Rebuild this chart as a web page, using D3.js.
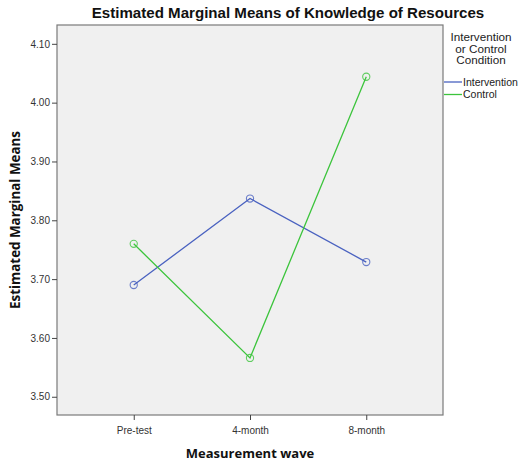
<!DOCTYPE html>
<html>
<head>
<meta charset="utf-8">
<script src="https://cdn.jsdelivr.net/npm/d3@7"></script>
<style>
  body { margin: 0; background: #fff; }
  svg { display: block; }
</style>
</head>
<body>
<svg width="519" height="461"></svg>
<script>
const width = 519;
const height = 461;

// data
const waves = ["Pre-test", "4-month", "8-month"];
const intervention = [3.690, 3.837, 3.729];
const control = [3.760, 3.566, 4.044];
const yTicks = [3.50, 3.60, 3.70, 3.80, 3.90, 4.00, 4.10];
const seriesNames = ["Intervention", "Control"];

const svg = d3.select("svg");

const plot = { left: 57, right: 443, top: 25, bottom: 415 };

const x = d3.scalePoint()
    .domain(waves)
    .range([plot.left, plot.right])
    .padding(0.66);

const y = d3.scaleLinear()
    .domain([3.469, 4.132])
    .range([plot.bottom, plot.top]);

const colors = { Intervention: "#4a62c0", Control: "#3cc43c" };

// plot background
svg.append("rect")
    .attr("x", plot.left)
    .attr("y", plot.top)
    .attr("width", plot.right - plot.left)
    .attr("height", plot.bottom - plot.top)
    .attr("fill", "#f0f0f0")
    .attr("stroke", "#7a7a7a")
    .attr("stroke-width", 1.2);

// y axis
const yAxis = svg.append("g")
    .attr("transform", `translate(${plot.left},0)`)
    .call(d3.axisLeft(y).tickValues(yTicks).tickFormat(d3.format(".2f")).tickSize(5).tickSizeOuter(0));
yAxis.select(".domain").remove();
yAxis.selectAll("line").attr("stroke", "#444");
yAxis.selectAll("text")
    .attr("font-family", "Liberation Sans, Arial, sans-serif")
    .attr("font-size", "10px")
    .attr("fill", "#333")
    .attr("dx", "1");

// x axis
const xAxis = svg.append("g")
    .attr("transform", `translate(0,${plot.bottom})`)
    .call(d3.axisBottom(x).tickSize(5).tickSizeOuter(0));
xAxis.select(".domain").remove();
xAxis.selectAll("line").attr("stroke", "#444");
xAxis.selectAll("text")
    .attr("font-family", "Liberation Sans, Arial, sans-serif")
    .attr("font-size", "10px")
    .attr("fill", "#333")
    .attr("dy", "1.1em");

// lines and markers
const series = [
    { name: "Intervention", values: intervention },
    { name: "Control", values: control }
];

const line = d3.line()
    .x((d, i) => x(waves[i]))
    .y(d => y(d));

series.forEach(s => {
    svg.append("path")
        .datum(s.values)
        .attr("d", line)
        .attr("fill", "none")
        .attr("stroke", colors[s.name])
        .attr("stroke-width", 1.3);

    svg.append("g")
        .selectAll("circle")
        .data(s.values)
        .join("circle")
        .attr("cx", (d, i) => x(waves[i]))
        .attr("cy", d => y(d))
        .attr("r", 3.6)
        .attr("fill", "none")
        .attr("stroke", colors[s.name])
        .attr("stroke-opacity", 0.8)
        .attr("stroke-width", 1.1);
});

// title
svg.append("text")
    .attr("x", 288)
    .attr("y", 18)
    .attr("text-anchor", "middle")
    .attr("font-family", "Liberation Sans, Arial, sans-serif")
    .attr("font-weight", "bold")
    .attr("font-size", "15.1px")
    .attr("fill", "#111")
    .text("Estimated Marginal Means of Knowledge of Resources");

// axis titles
svg.append("text")
    .attr("transform", `translate(20,220) rotate(-90)`)
    .attr("text-anchor", "middle")
    .attr("font-family", "Open Sans, DejaVu Sans, sans-serif")
    .attr("font-weight", "bold")
    .attr("font-size", "13.4px")
    .attr("fill", "#111")
    .text("Estimated Marginal Means");

svg.append("text")
    .attr("x", (plot.left + plot.right) / 2)
    .attr("y", 458)
    .attr("text-anchor", "middle")
    .attr("font-family", "Open Sans, DejaVu Sans, sans-serif")
    .attr("font-weight", "bold")
    .attr("font-size", "13px")
    .attr("fill", "#111")
    .text("Measurement wave");

// legend
const legendTitle = ["Intervention", "or Control", "Condition"];
svg.append("g")
    .selectAll("text")
    .data(legendTitle)
    .join("text")
    .attr("x", 481)
    .attr("y", (d, i) => 41 + i * 11.5)
    .attr("text-anchor", "middle")
    .attr("font-family", "Liberation Sans, Arial, sans-serif")
    .attr("font-size", "11.7px")
    .attr("fill", "#222")
    .text(d => d);

const legend = svg.append("g")
    .selectAll("g")
    .data(seriesNames)
    .join("g")
    .attr("transform", (d, i) => `translate(444,${82 + i * 12.5})`);

legend.append("line")
    .attr("x1", 0)
    .attr("x2", 18)
    .attr("stroke", d => colors[d])
    .attr("stroke-width", 1.3);

legend.append("text")
    .attr("x", 19)
    .attr("y", 3.5)
    .attr("font-family", "Liberation Sans, Arial, sans-serif")
    .attr("font-size", "10.5px")
    .attr("fill", "#222")
    .text(d => d);
</script>
</body>
</html>
